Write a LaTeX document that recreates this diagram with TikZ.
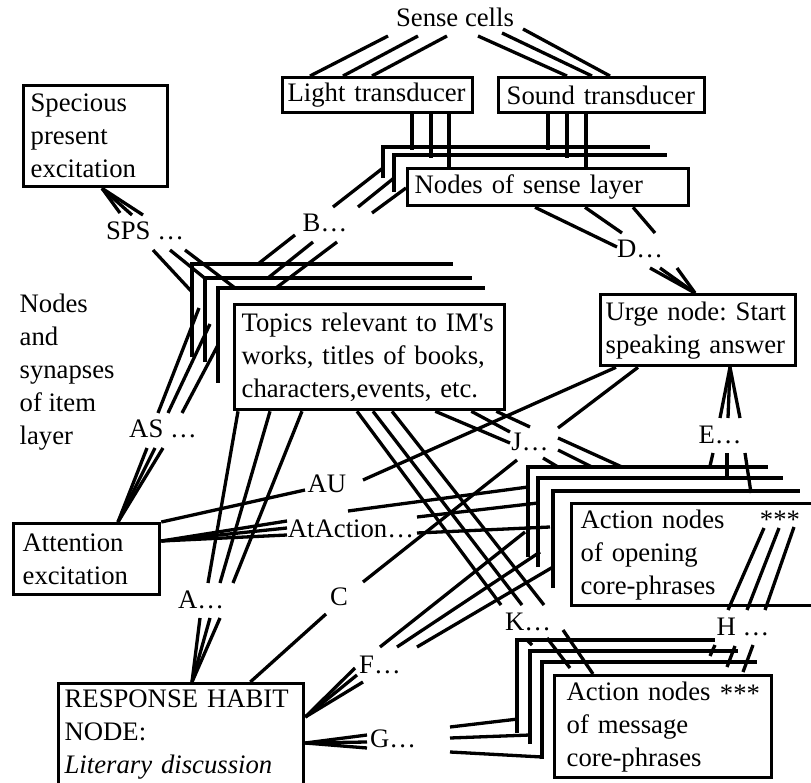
\documentclass[tikz,border=0pt]{standalone}
\usepackage{fontspec}
\setmainfont{Liberation Serif}

\tikzset{
  nodebox/.style={draw, anchor=north west, inner xsep=7pt, inner ysep=0pt, align=left},
  lbl/.style={anchor=base, inner sep=0pt},
}

\begin{document}
\begin{tikzpicture}[x=1pt, y=-1pt, line width=3.3pt, font=\fontsize{26.7}{33}\selectfont\frenchspacing]
\useasboundingbox (0,0) rectangle (811,783);

% boxes
\node [lbl] (cells) at (455,27) {Sense cells};
\node [nodebox, minimum width=190pt, minimum height=35pt, text width=180pt, inner xsep=5pt] (light) at (281,76) {Light transducer};
\node [nodebox, minimum width=206pt, minimum height=35pt, text width=190pt, inner xsep=8pt] (sound) at (497,76) {Sound transducer};
\node [nodebox, minimum width=281pt, minimum height=37pt, text width=267pt] (sense) at (406,167) {Nodes of sense layer};
\node [nodebox, minimum width=144pt, minimum height=101pt, text width=130pt] (spec) at (22,84) {Specious\\present\\excitation};
\node [nodebox, minimum width=270pt, minimum height=105pt, text width=256pt] (topics) at (233,303) {Topics relevant to IM\textquotesingle s\\works, titles of books,\\characters,events, etc.};
\node [nodebox, minimum width=195pt, minimum height=71pt, text width=185pt, inner xsep=5pt] (urge) at (599,293) {\mbox{Urge node: Start}\\\mbox{speaking answer}};
\node [nodebox, minimum width=146pt, minimum height=71pt, text width=128pt, inner xsep=9pt] (attn) at (12,522) {Attention\\excitation};
\node [nodebox, minimum width=245pt, minimum height=102pt, text width=233pt, inner xsep=6pt] (resp) at (57,682) {RESPONSE HABIT\\NODE:\\\textit{Literary discussion}};
\node [nodebox, minimum width=260pt, minimum height=102pt, text width=242pt, inner xsep=9pt] (open) at (570,502) {Action nodes\\of opening\\core-phrases};
\node [nodebox, minimum width=217pt, minimum height=102pt, text width=193pt, inner xsep=12pt] (msg) at (553,674) {Action nodes\\of message\\core-phrases};
\node [lbl] (openstars) at (780,528) {***};
\node [lbl] (msgstars) at (740,702) {***};
\node [anchor=north west, inner sep=0pt, align=left] (itemlayer) at (18,292) {Nodes\\and\\synapses\\of item\\layer};

% synapse labels
\node [lbl] (sps) at (145,240) {SPS …};
\node [lbl] (bdots) at (325,232) {B…};
\node [lbl] (ddots) at (640,258) {D…};
\node [lbl] (asdots) at (163,437) {AS …};
\node [lbl] (au) at (327,492) {AU};
\node [lbl] (atact) at (351,537) {AtAction…};
\node [lbl] (jdots) at (530,450) {J…};
\node [lbl] (edots) at (720,443) {E…};
\node [lbl] (adots) at (201,608) {A…};
\node [lbl] (cc) at (339,605) {C};
\node [lbl] (fdots) at (380,673) {F…};
\node [lbl] (gdots) at (393,747) {G…};
\node [lbl] (kdots) at (528,630) {K…};
\node [lbl] (hdots) at (743,635) {H …};

% layers behind the boxes
\foreach \a/\b/\c/\d in {-23/11/-20/244, -12/25/-12/261}
  \draw ([shift={(\a,\b)}]sense.north west) |- ([shift={(\d,\c)}]sense.north west);
\foreach \a/\b/\c/\d in {-41/54/-39/220, -28/59/-25/239, -15/80/-15/252}
  \draw ([shift={(\a,\b)}]topics.north west) |- ([shift={(\d,\c)}]topics.north west);
\foreach \a/\b/\c/\d in {-42/55/-35/198, -32/65/-24/213, -17/86/-11/230}
  \draw ([shift={(\a,\b)}]open.north west) |- ([shift={(\d,\c)}]open.north west);
\foreach \a/\b/\c/\d in {-36/59/-34/162, -23/70/-23/185, -11/85/-12/204}
  \draw ([shift={(\a,\b)}]msg.north west) |- ([shift={(\d,\c)}]msg.north west);

% sense cells -> transducers -> sense layer
\foreach \a/\b/\c in {-67/9/29, -37/9/62, -8/9/91}
  \draw ([shift={(\a,\b)}]cells.base) -- ([shift={(\c,0)}]light.north west);
\foreach \a/\b/\c in {23/9/70, 47/6/95, 68/2/113}
  \draw ([shift={(\a,\b)}]cells.base) -- ([shift={(\c,0)}]sound.north west);
\foreach \a/\l in {131/36, 150/44, 168/56}
  \draw ([shift={(\a,0)}]light.south west) -- ++(0,\l);
\foreach \a/\l in {51/36, 70/44, 89/56}
  \draw ([shift={(\a,0)}]sound.south west) -- ++(0,\l);

% SPS
\foreach \a/\b in {-25/-27, -13/-25, -2/-25}
  \draw ([shift={(80,0)}]spec.south west) -- ([shift={(\a,\b)}]sps.base);
\foreach \a/\b/\c/\d in {8/10/-41/-11, 25/10/-26/-23, 40/10/2/-15}
  \draw ([shift={(\a,\b)}]sps.base) -- ([shift={(\c,\d)}]topics.north west);

% B
\foreach \a/\b/\c/\d in {25/-39/-30/3, 35/-25/-12/10, 43/-15/12/10}
  \draw ([shift={(\a,\b)}]topics.north west) -- ([shift={(\c,\d)}]bdots.base);
\foreach \a/\b/\c/\d in {8/-25/-23/1, 33/-25/-12/11, 47/-19/0/21}
  \draw ([shift={(\a,\b)}]bdots.base) -- ([shift={(\c,\d)}]sense.north west);

% D
\foreach \a/\b/\c in {129/-23/-11, 179/-18/-25, 227/15/-25}
  \draw ([shift={(\a,0)}]sense.south west) -- ([shift={(\b,\c)}]ddots.base);
\foreach \a in {10, 20, 37}
  \draw ([shift={(\a,10)}]ddots.base) -- ([shift={(96,0)}]urge.north west);

% AS
\foreach \a in {-16, -8, 0}
  \draw ([shift={(106,0)}]attn.north west) -- ([shift={(\a,11)}]asdots.base);
\foreach \a/\c/\d in {-5/-34/5, 5/-23/21, 19/-15/42}
  \draw ([shift={(\a,-24)}]asdots.base) -- ([shift={(\c,\d)}]topics.north west);

% A
\foreach \a/\b in {5/7, 37/19, 69/32}
  \draw ([shift={(\a,0)}]topics.south west) -- ([shift={(\b,-25)}]adots.base);
\foreach \a in {-1, 9, 19}
  \draw ([shift={(\a,10)}]adots.base) -- ([shift={(135,0)}]resp.north west);

% AU and AtAction
\draw (attn.north east) -- ([shift={(-22,-2)}]au.base);
\draw ([shift={(36,-12)}]au.base) -- ([shift={(17,0)}]urge.south west);
\foreach \b in {-16, -9, -2}
  \draw ([shift={(0,19)}]attn.north east) -- ([shift={(-64,\b)}]atact.base);
\foreach \a/\b/\c/\d in {-3/-26/-42/-15, 66/-20/-32/1, 66/-4/-20/25}
  \draw ([shift={(\a,\b)}]atact.base) -- ([shift={(\c,\d)}]open.north west);

% J and C
\foreach \a/\b/\c in {-71/-20/-7, -35/-20/-18, -10/0/-23}
  \draw ([shift={(\a,0)}]topics.south east) -- ([shift={(\b,\c)}]jdots.base);
\draw ([shift={(28,-22)}]jdots.base) -- ([shift={(39,0)}]urge.south west);
\foreach \a/\b/\c in {13/8/-12, 28/0/22, 28/-12/52}
  \draw ([shift={(\a,\b)}]jdots.base) -- ([shift={(\c,-35)}]open.north west);
\draw ([shift={(-55,0)}]resp.north east) -- ([shift={(-13,9)}]cc.base);
\draw ([shift={(24,-23)}]cc.base) -- ([shift={(-13,10)}]jdots.base);

% K
\foreach \a/\b in {124/-27, 140/-6, 159/16}
  \draw ([shift={(\a,0)}]topics.south west) -- ([shift={(\b,-25)}]kdots.base);
\foreach \a/\b/\c/\d in {-1/10/-21/-29, 19/8/17/-6, 35/0/40/0}
  \draw ([shift={(\a,\b)}]kdots.base) -- ([shift={(\c,\d)}]msg.north west);

% E
\foreach \a in {0, 8, 20}
  \draw ([shift={(131,0)}]urge.south west) -- ([shift={(\a,-25)}]edots.base);
\foreach \a/\c/\d in {-7/140/-36, 7/157/-23, 25/181/-9}
  \draw ([shift={(\a,10)}]edots.base) -- ([shift={(\c,\d)}]open.north west);

% F and G
\foreach \a/\b in {-25/-5, -23/2, -17/9}
  \draw ([shift={(0,35)}]resp.north east) -- ([shift={(\a,\b)}]fdots.base);
\foreach \a/\c/\d in {0/-45/30, 17/-30/50, 37/-17/65}
  \draw ([shift={(\a,-26)}]fdots.base) -- ([shift={(\c,\d)}]open.north west);
\foreach \b in {-12, -5, 1}
  \draw ([shift={(0,61)}]resp.north east) -- ([shift={(-26,\b)}]gdots.base);
\foreach \b/\c/\d in {-20/-35/45, -9/-23/61, 5/-11/83}
  \draw ([shift={(57,\b)}]gdots.base) -- ([shift={(\c,\d)}]msg.north west);

% H
\foreach \a/\b/\c in {194/26/-15, 209/26/4, 224/25/22}
  \draw ([shift={(\a,\b)}]open.north west) -- ([shift={(\c,-25)}]hdots.base);
\foreach \a/\b/\c/\d in {-28/10/157/-18, -8/11/174/-7, 10/10/190/-2}
  \draw ([shift={(\a,\b)}]hdots.base) -- ([shift={(\c,\d)}]msg.north west);

\end{tikzpicture}
\end{document}
